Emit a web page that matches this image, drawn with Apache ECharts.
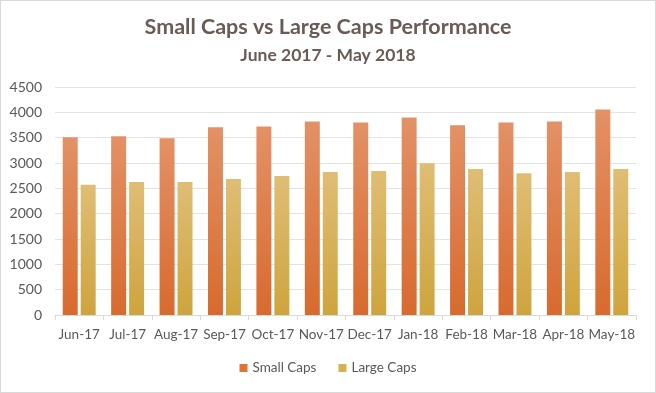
<!DOCTYPE html>
<html><head><meta charset="utf-8">
<script src="https://cdn.jsdelivr.net/npm/echarts@6/dist/echarts.min.js"></script>
<style>html,body{margin:0;padding:0;background:#fff}#c{width:654px;height:391px;border:1px solid #d9d9d9}</style>
</head><body><div id="c"></div>
<script>
const categories = ['Jun-17','Jul-17','Aug-17','Sep-17','Oct-17','Nov-17','Dec-17','Jan-18','Feb-18','Mar-18','Apr-18','May-18'];
const smallCaps = [3510, 3530, 3490, 3705, 3720, 3820, 3800, 3900, 3745, 3800, 3820, 4055];
const largeCaps = [2570, 2625, 2625, 2685, 2745, 2820, 2840, 2995, 2880, 2800, 2820, 2880];
const yTicks = {min: 0, max: 4500, interval: 500};
const FONT = 'Lato';
const chart = echarts.init(document.getElementById('c'));
const grad = (a,b)=>new echarts.graphic.LinearGradient(0,0,0,1,[{offset:0,color:a},{offset:1,color:b}]);
chart.setOption({
  animation:false,
  title:[
    {text:'Small Caps vs Large Caps Performance',left:'center',top:10,textStyle:{fontFamily:FONT,fontSize:21.5,fontWeight:'bold',color:'#6b5b55'}},
    {text:'June 2017 - May 2018',left:'center',top:40,textStyle:{fontFamily:FONT,fontSize:17.5,fontWeight:'bold',color:'#6b5b55'}}
  ],
  legend:{bottom:12,left:'center',itemWidth:8,itemHeight:8,itemGap:22,icon:'rect',
    textStyle:{fontFamily:FONT,fontSize:13.5,color:'#595959'},
    data:[{name:'Small Caps',itemStyle:{color:'#df7639'}},{name:'Large Caps',itemStyle:{color:'#d6b154'}}]},
  grid:{left:54,right:19,top:86,bottom:77},
  xAxis:{type:'category',data:categories,
    axisLine:{lineStyle:{color:'#d9d9d9'}},
    axisTick:{show:true,length:5,lineStyle:{color:'#d9d9d9'}},
    axisLabel:{fontFamily:FONT,fontSize:13.5,color:'#595959',margin:13,interval:0}},
  yAxis:{type:'value',min:yTicks.min,max:yTicks.max,interval:yTicks.interval,
    axisLine:{show:false},axisTick:{show:false},
    splitLine:{lineStyle:{color:'#e3e3e3'}},
    axisLabel:{fontFamily:FONT,fontSize:14,color:'#595959',margin:13,formatter:v=>String(v)}},
  series:[
    {name:'Small Caps',type:'bar',data:smallCaps,barGap:'20%',barCategoryGap:'32%',
      itemStyle:{color:grad('#e39166','#d86a2e')}},
    {name:'Large Caps',type:'bar',data:largeCaps,
      itemStyle:{color:grad('#dfbd74','#cfa43e')}}
  ]
});
</script></body></html>
